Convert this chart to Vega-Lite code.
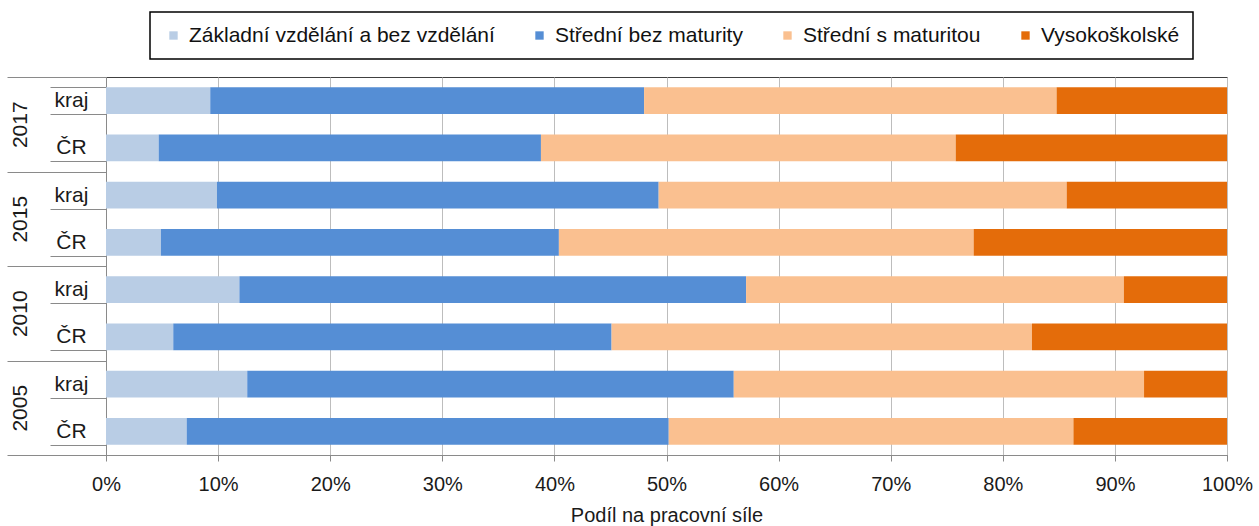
{
  "$schema": "https://vega.github.io/schema/vega-lite/v6.json",
  "width": 1121,
  "height": 378,
  "autosize": {"type": "none"},
  "padding": {"left": 106, "top": 77, "right": 32, "bottom": 71},
  "config": {
    "font": "Liberation Sans",
    "view": {"stroke": "#404040", "strokeWidth": 1},
    "legend": {
      "orient": "none",
      "legendX": 44,
      "legendY": -65,
      "direction": "horizontal",
      "padding": 13,
      "columnPadding": 34,
      "gridAlign": "none",
      "symbolType": "square",
      "symbolSize": 70,
      "symbolStrokeWidth": 0,
      "labelFontSize": 21,
      "labelFont": "Liberation Sans",
      "labelColor": "#111",
      "labelOffset": 5,
      "labelLimit": 1000,
      "strokeColor": "#000",
      "strokeWidth": 1.5,
      "fillColor": "#fff"
    }
  },
  "data": {
    "values": [
      {"year": "2017", "region": "kraj", "row": "2017 kraj", "cat": "Základní vzdělání a bez vzdělání", "ord": 1, "value": 9.3},
      {"year": "2017", "region": "kraj", "row": "2017 kraj", "cat": "Střední bez maturity", "ord": 2, "value": 38.7},
      {"year": "2017", "region": "kraj", "row": "2017 kraj", "cat": "Střední s maturitou", "ord": 3, "value": 36.8},
      {"year": "2017", "region": "kraj", "row": "2017 kraj", "cat": "Vysokoškolské", "ord": 4, "value": 15.2},
      {"year": "2017", "region": "ČR", "row": "2017 ČR", "cat": "Základní vzdělání a bez vzdělání", "ord": 1, "value": 4.7},
      {"year": "2017", "region": "ČR", "row": "2017 ČR", "cat": "Střední bez maturity", "ord": 2, "value": 34.1},
      {"year": "2017", "region": "ČR", "row": "2017 ČR", "cat": "Střední s maturitou", "ord": 3, "value": 37.0},
      {"year": "2017", "region": "ČR", "row": "2017 ČR", "cat": "Vysokoškolské", "ord": 4, "value": 24.2},
      {"year": "2015", "region": "kraj", "row": "2015 kraj", "cat": "Základní vzdělání a bez vzdělání", "ord": 1, "value": 9.9},
      {"year": "2015", "region": "kraj", "row": "2015 kraj", "cat": "Střední bez maturity", "ord": 2, "value": 39.4},
      {"year": "2015", "region": "kraj", "row": "2015 kraj", "cat": "Střední s maturitou", "ord": 3, "value": 36.4},
      {"year": "2015", "region": "kraj", "row": "2015 kraj", "cat": "Vysokoškolské", "ord": 4, "value": 14.3},
      {"year": "2015", "region": "ČR", "row": "2015 ČR", "cat": "Základní vzdělání a bez vzdělání", "ord": 1, "value": 4.9},
      {"year": "2015", "region": "ČR", "row": "2015 ČR", "cat": "Střední bez maturity", "ord": 2, "value": 35.5},
      {"year": "2015", "region": "ČR", "row": "2015 ČR", "cat": "Střední s maturitou", "ord": 3, "value": 37.0},
      {"year": "2015", "region": "ČR", "row": "2015 ČR", "cat": "Vysokoškolské", "ord": 4, "value": 22.6},
      {"year": "2010", "region": "kraj", "row": "2010 kraj", "cat": "Základní vzdělání a bez vzdělání", "ord": 1, "value": 11.9},
      {"year": "2010", "region": "kraj", "row": "2010 kraj", "cat": "Střední bez maturity", "ord": 2, "value": 45.2},
      {"year": "2010", "region": "kraj", "row": "2010 kraj", "cat": "Střední s maturitou", "ord": 3, "value": 33.7},
      {"year": "2010", "region": "kraj", "row": "2010 kraj", "cat": "Vysokoškolské", "ord": 4, "value": 9.2},
      {"year": "2010", "region": "ČR", "row": "2010 ČR", "cat": "Základní vzdělání a bez vzdělání", "ord": 1, "value": 6.0},
      {"year": "2010", "region": "ČR", "row": "2010 ČR", "cat": "Střední bez maturity", "ord": 2, "value": 39.1},
      {"year": "2010", "region": "ČR", "row": "2010 ČR", "cat": "Střední s maturitou", "ord": 3, "value": 37.5},
      {"year": "2010", "region": "ČR", "row": "2010 ČR", "cat": "Vysokoškolské", "ord": 4, "value": 17.4},
      {"year": "2005", "region": "kraj", "row": "2005 kraj", "cat": "Základní vzdělání a bez vzdělání", "ord": 1, "value": 12.6},
      {"year": "2005", "region": "kraj", "row": "2005 kraj", "cat": "Střední bez maturity", "ord": 2, "value": 43.4},
      {"year": "2005", "region": "kraj", "row": "2005 kraj", "cat": "Střední s maturitou", "ord": 3, "value": 36.6},
      {"year": "2005", "region": "kraj", "row": "2005 kraj", "cat": "Vysokoškolské", "ord": 4, "value": 7.4},
      {"year": "2005", "region": "ČR", "row": "2005 ČR", "cat": "Základní vzdělání a bez vzdělání", "ord": 1, "value": 7.2},
      {"year": "2005", "region": "ČR", "row": "2005 ČR", "cat": "Střední bez maturity", "ord": 2, "value": 43.0},
      {"year": "2005", "region": "ČR", "row": "2005 ČR", "cat": "Střední s maturitou", "ord": 3, "value": 36.1},
      {"year": "2005", "region": "ČR", "row": "2005 ČR", "cat": "Vysokoškolské", "ord": 4, "value": 13.7}
    ]
  },
  "encoding": {
    "x": {
      "field": "value",
      "type": "quantitative",
      "stack": "normalize",
      "scale": {"domain": [0, 1], "nice": false},
      "axis": {
        "format": ".0%",
        "values": [0, 0.1, 0.2, 0.3, 0.4, 0.5, 0.6, 0.7, 0.8, 0.9, 1],
        "grid": true,
        "gridColor": "#bdbdbd",
        "gridWidth": 1,
        "domainColor": "#8a8a8a",
        "tickColor": "#8a8a8a",
        "tickSize": 6,
        "labelFlush": false,
        "labelFontSize": 20,
        "labelColor": "#1a1a1a",
        "labelPadding": 13,
        "title": "Podíl na pracovní síle",
        "titleFontSize": 20,
        "titleFontWeight": "normal",
        "titleColor": "#1a1a1a",
        "titlePadding": 11
      }
    }
  },
  "layer": [
    {
      "mark": {"type": "bar", "opacity": 0},
      "encoding": {
        "y": {
          "field": "year",
          "type": "nominal",
          "sort": ["2017", "2015", "2010", "2005"],
          "scale": {"paddingInner": 0, "paddingOuter": 0},
          "axis": {
            "orient": "left",
            "title": null,
            "domain": false,
            "tickBand": "extent",
            "tickSize": 99,
            "tickColor": "#8a8a8a",
            "labelAngle": -90,
            "labelAlign": "center",
            "labelBaseline": "middle",
            "labelPadding": -13,
            "labelFontSize": 21,
            "labelColor": "#1a1a1a"
          }
        }
      }
    },
    {
      "mark": {"type": "bar"},
      "encoding": {
        "y": {
          "field": "row",
          "type": "nominal",
          "sort": ["2017 kraj", "2017 ČR", "2015 kraj", "2015 ČR", "2010 kraj", "2010 ČR", "2005 kraj", "2005 ČR"],
          "scale": {"paddingInner": 0.43, "paddingOuter": 0.215},
          "axis": {
            "orient": "left",
            "title": null,
            "domain": true,
            "domainColor": "#8a8a8a",
            "tickBand": "extent",
            "tickSize": 56,
            "tickColor": "#8a8a8a",
            "labelExpr": "split(datum.label, ' ')[1]",
            "labelAlign": "center",
            "labelBaseline": "middle",
            "labelPadding": -21,
            "labelFontSize": 21,
            "labelColor": "#1a1a1a"
          }
        },
        "color": {
          "field": "cat",
          "type": "nominal",
          "scale": {
            "domain": ["Základní vzdělání a bez vzdělání", "Střední bez maturity", "Střední s maturitou", "Vysokoškolské"],
            "range": ["#b9cde5", "#558ed5", "#fac090", "#e46c0a"]
          },
          "legend": {"title": null}
        },
        "order": {"field": "ord", "type": "quantitative"}
      }
    }
  ],
  "resolve": {"scale": {"y": "independent"}, "axis": {"y": "independent"}}
}
